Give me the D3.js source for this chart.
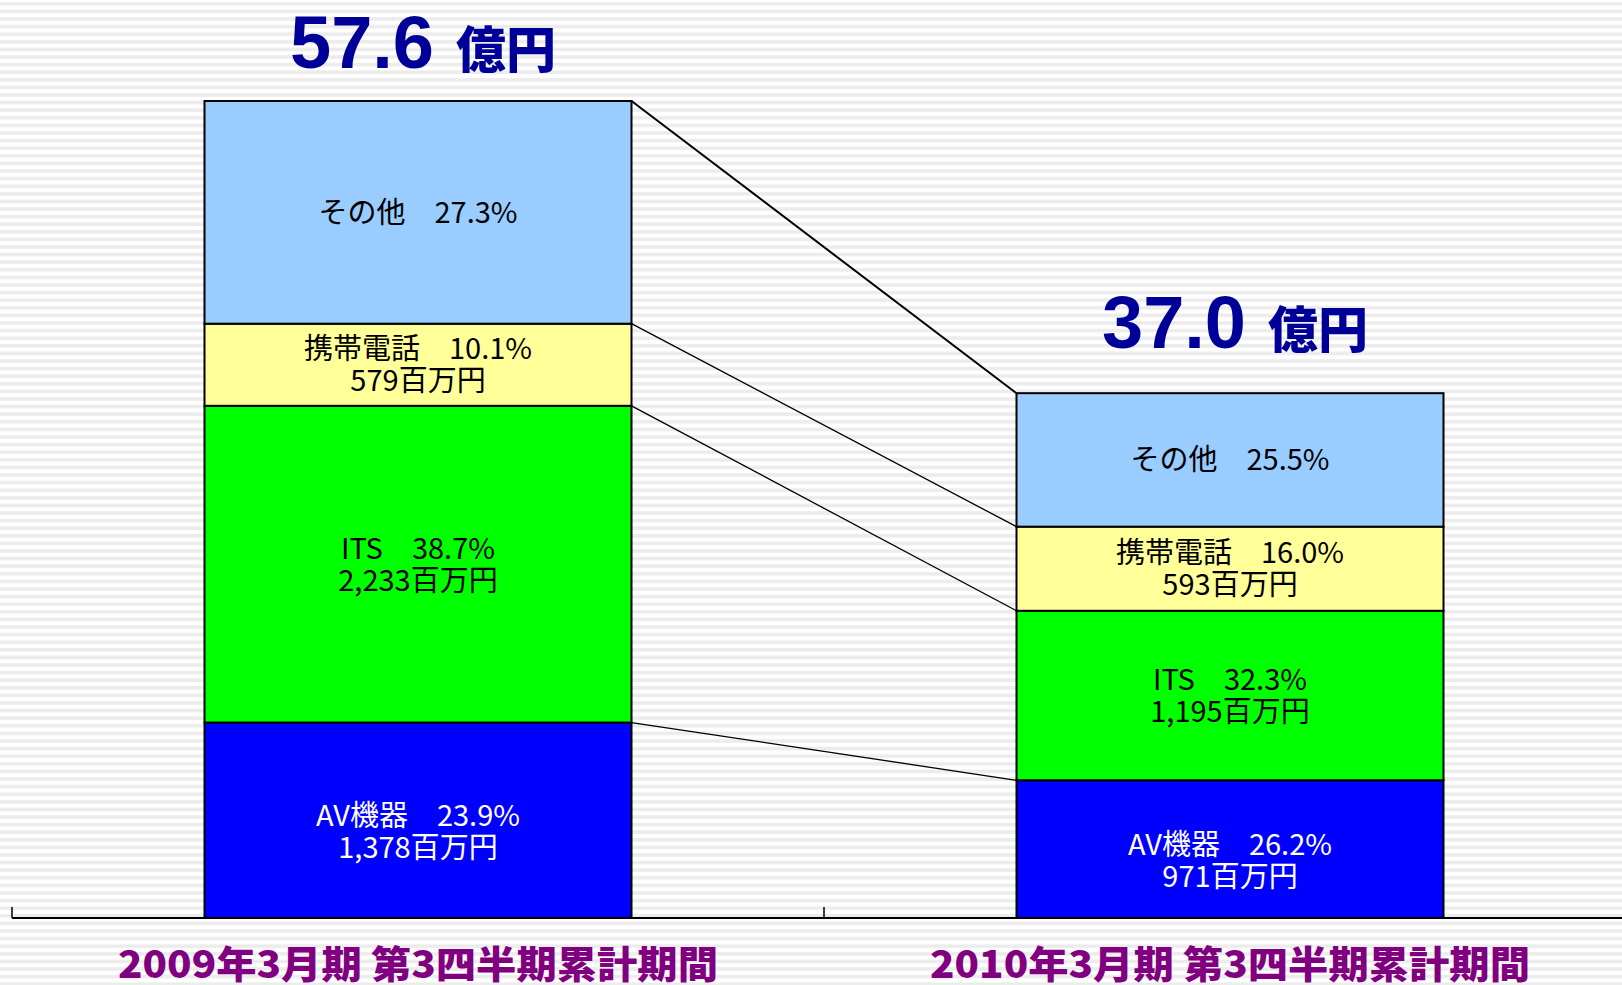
<!DOCTYPE html>
<html lang="ja">
<head>
<meta charset="UTF-8">
<title>売上構成</title>
<style>
  body { margin: 0; background: #fff; }
  svg { display: block; }
  .seg-label { font-family: "Noto Sans CJK JP", sans-serif; font-size: 29px; }
  .cat-label { font-family: "Noto Sans CJK JP", sans-serif; font-weight: 900; font-size: 38px; fill: #800080; }
</style>
</head>
<body>
<script src="https://cdnjs.cloudflare.com/ajax/libs/d3/7.8.5/d3.min.js"></script>
<script>
// 期間
var periods = ['2009年3月期 第3四半期累計期間', '2010年3月期 第3四半期累計期間'];
var totals = ['57.6', '37.0'];  // 億円

// 区分 (下から積む順)
var segments = ['AV機器', 'ITS', '携帯電話', 'その他'];
var segColors = ['#0000ff', '#00ff00', '#ffff99', '#99ccff'];
var segTextColors = ['#ffffff', '#000000', '#000000', '#000000'];

// 金額 (百万円) その他は合計からの差
var avAmount = [1378, 971];
var itsAmount = [2233, 1195];
var mobileAmount = [579, 593];
var otherAmount = [1570, 941];

// 構成比 (%)
var avShare = ['23.9', '26.2'];
var itsShare = ['38.7', '32.3'];
var mobileShare = ['10.1', '16.0'];
var otherShare = ['27.3', '25.5'];

var W = 1622, H = 985;
var axisY = 918;

var rows = periods.map(function (p, i) {
  return {
    period: p,
    'AV機器': avAmount[i],
    'ITS': itsAmount[i],
    '携帯電話': mobileAmount[i],
    'その他': otherAmount[i]
  };
});
var shares = {
  'AV機器': avShare,
  'ITS': itsShare,
  '携帯電話': mobileShare,
  'その他': otherShare
};

var x = d3.scaleBand().domain(periods).range([12, 1636]).padding(0);
var barW = 427;
var y = d3.scaleLinear()
  .domain([0, d3.sum(segments, function (s) { return rows[0][s]; })])
  .range([axisY, 101]);

var stack = d3.stack().keys(segments)(rows);

var svg = d3.select('body').append('svg')
  .attr('width', W)
  .attr('height', H);

// 背景のしま模様
var defs = svg.append('defs');
var pat = defs.append('pattern')
  .attr('id', 'stripes')
  .attr('patternUnits', 'userSpaceOnUse')
  .attr('width', 8)
  .attr('height', 7.6);
pat.append('rect').attr('width', 8).attr('height', 7.6).attr('fill', '#ffffff');
pat.append('rect').attr('y', 2).attr('width', 8).attr('height', 3.6).attr('fill', '#ececec');
svg.append('rect').attr('width', W).attr('height', H).attr('fill', 'url(#stripes)');

function barLeft(p) { return x(p) + (x.bandwidth() - barW) / 2; }
function barRight(p) { return barLeft(p) + barW; }

// 接続線
var connG = svg.append('g');
stack.forEach(function (layer, k) {
  connG.append('line')
    .attr('x1', barRight(periods[0]))
    .attr('y1', y(layer[0][1]))
    .attr('x2', barLeft(periods[1]))
    .attr('y2', y(layer[1][1]))
    .attr('stroke', '#000')
    .attr('stroke-width', k === stack.length - 1 ? 2 : 1.3);
});

// 棒
var layers = svg.selectAll('.layer')
  .data(stack)
  .enter()
  .append('g')
  .attr('class', 'layer');

layers.selectAll('rect')
  .data(function (d) { return d; })
  .enter()
  .append('rect')
  .attr('x', function (d) { return barLeft(d.data.period); })
  .attr('y', function (d) { return y(d[1]); })
  .attr('width', barW)
  .attr('height', function (d) { return y(d[0]) - y(d[1]); })
  .attr('fill', function (d, i, nodes) {
    return segColors[segments.indexOf(d3.select(nodes[i].parentNode).datum().key)];
  })
  .attr('stroke', '#000')
  .attr('stroke-width', 2);

// ラベル (一番下の区分は少し下げる)
stack.forEach(function (layer, k) {
  var key = layer.key;
  layer.forEach(function (d, i) {
    var cx = x(d.data.period) + x.bandwidth() / 2;
    var cy = (y(d[0]) + y(d[1])) / 2 + (k === 0 ? 11 : 0);
    var lines = [key + '\u3000' + shares[key][i] + '%'];
    if (key !== 'その他') lines.push(d3.format(',')(d.data[key]) + '百万円');
    var t = svg.append('text')
      .attr('class', 'seg-label')
      .attr('text-anchor', 'middle')
      .attr('fill', segTextColors[k]);
    var lh = 32;
    var y0 = cy - (lines.length - 1) * lh / 2;
    lines.forEach(function (ln, j) {
      t.append('tspan')
        .attr('x', cx)
        .attr('y', y0 + j * lh)
        .attr('dy', '0.36em')
        .text(ln);
    });
  });
});

// 合計
periods.forEach(function (p, i) {
  var cx = x(p) + x.bandwidth() / 2;
  var top = y(d3.sum(segments, function (s) { return rows[i][s]; }));
  var t = svg.append('text')
    .attr('x', cx + 5)
    .attr('y', Math.max(top - 45, 68))
    .attr('text-anchor', 'middle')
    .attr('fill', '#000099');
  t.append('tspan')
    .style('font-family', '"Liberation Sans", Arial, sans-serif')
    .style('font-weight', 'bold')
    .style('font-size', '74px')
    .text(totals[i]);
  t.append('tspan')
    .attr('dx', 22)
    .style('font-family', '"Noto Sans CJK JP", sans-serif')
    .style('font-weight', 900)
    .style('font-size', '50px')
    .text('億円');
});

// x軸
var axisG = svg.append('g');
axisG.append('line')
  .attr('x1', 12).attr('x2', W)
  .attr('y1', axisY).attr('y2', axisY)
  .attr('stroke', '#000').attr('stroke-width', 2);
periods.forEach(function (p) {
  axisG.append('line')
    .attr('x1', x(p)).attr('x2', x(p))
    .attr('y1', axisY).attr('y2', axisY - 11)
    .attr('stroke', '#000').attr('stroke-width', 1.5);
});

// 期間ラベル
svg.selectAll('.cat-label')
  .data(periods)
  .enter()
  .append('text')
  .attr('class', 'cat-label')
  .attr('x', function (d) { return x(d) + x.bandwidth() / 2; })
  .attr('y', 978)
  .attr('text-anchor', 'middle')
  .attr('textLength', 600)
  .attr('lengthAdjust', 'spacingAndGlyphs')
  .text(function (d) { return d; });
</script>
</body>
</html>
